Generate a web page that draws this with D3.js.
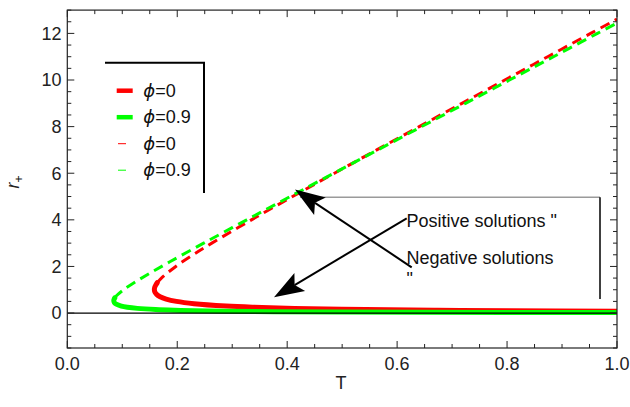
<!DOCTYPE html>
<html>
<head>
<meta charset="utf-8">
<script src="https://cdn.jsdelivr.net/npm/d3@7"></script>
<style>
  html, body { margin: 0; padding: 0; background: #fff; }
  svg { display: block; font-family: "Liberation Sans", Arial, sans-serif; }
</style>
</head>
<body>
<svg id="chart" width="630" height="407"></svg>
<script>
// Horizon radius r+ against temperature T, two values of phi.
// Small-black-hole branches (solid) and large-black-hole branches (dashed).
const redSolidT  = [0.1636, 0.1609, 0.1590, 0.1584, 0.1593, 0.1625, 0.1688, 0.1799, 0.1986, 0.2305, 0.2889, 0.3380, 0.4137, 0.5423, 0.6726, 0.8037, 1.0];
const redSolidR  = [1.3, 1.2, 1.1, 1.005, 0.9, 0.8, 0.7, 0.6, 0.5, 0.4, 0.3, 0.25, 0.2, 0.15, 0.12, 0.1, 0.08];
const redDashT   = [0.1636, 0.1712, 0.1974, 0.2288, 0.2629, 0.3350, 0.4098, 0.4860, 0.5629, 0.6402, 0.7179, 0.7958, 0.8739, 0.9520, 1.0];
const redDashR   = [1.3, 1.5, 2, 2.5, 3, 4, 5, 6, 7, 8, 9, 10, 11, 12, 12.61];
const greenSolidT = [0.0864, 0.0853, 0.08455, 0.0856, 0.0891, 0.0983, 0.1092, 0.1275, 0.1606, 0.1953, 0.2308, 0.2849, 0.3762, 0.4988, 0.6394, 0.7980, 1.0];
const greenSolidR = [0.65, 0.6, 0.527, 0.45, 0.38, 0.3, 0.25, 0.2, 0.15, 0.12, 0.1, 0.08, 0.06, 0.045, 0.035, 0.028, 0.022];
const greenDashT  = [0.0864, 0.0899, 0.1025, 0.1214, 0.1495, 0.1866, 0.2481, 0.3264, 0.4055, 0.4850, 0.5647, 0.6445, 0.7244, 0.8044, 0.8844, 0.9644, 1.0];
const greenDashR  = [0.65, 0.75, 1.0, 1.3, 1.7, 2.2, 3, 4, 5, 6, 7, 8, 9, 10, 11, 12, 12.44];

const xTicks = [0, 0.2, 0.4, 0.6, 0.8, 1.0];
const xTickLabels = ["0.0", "0.2", "0.4", "0.6", "0.8", "1.0"];
const yTicks = [0, 2, 4, 6, 8, 10, 12];
const yTickLabels = ["0", "2", "4", "6", "8", "10", "12"];
const legendLabels = ["0", "0.9", "0", "0.9"];

const svg = d3.select("#chart");
const x = d3.scaleLinear().domain([0, 1]).range([67.3, 617]);
const y = d3.scaleLinear().domain([-1.5, 13]).range([348, 10.1]);

const RED = "#ff0000", GREEN = "#00ff00";
const FONT = 18;

svg.append("defs").append("clipPath").attr("id", "plotClip")
  .append("rect").attr("x", x(0)).attr("y", y(13)).attr("width", x(1) - x(0)).attr("height", y(-1.5) - y(13));

const plot = svg.append("g").attr("clip-path", "url(#plotClip)");
const line = d3.line().x(d => x(d[0])).y(d => y(d[1])).curve(d3.curveCatmullRom.alpha(0.5));
const pts = (T, R) => T.map((t, i) => [t, R[i]]);

// solid small branches
plot.append("path").attr("d", line(pts(redSolidT, redSolidR)))
  .attr("fill", "none").attr("stroke", RED).attr("stroke-width", 5).attr("stroke-linecap", "round");
plot.append("path").attr("d", line(pts(greenSolidT, greenSolidR)))
  .attr("fill", "none").attr("stroke", GREEN).attr("stroke-width", 5).attr("stroke-linecap", "round");
// dashed large branches
plot.append("path").attr("d", line(pts(redDashT, redDashR)))
  .attr("fill", "none").attr("stroke", RED).attr("stroke-width", 3).attr("stroke-dasharray", "10,6");
plot.append("path").attr("d", line(pts(greenDashT, greenDashR)))
  .attr("fill", "none").attr("stroke", GREEN).attr("stroke-width", 3).attr("stroke-dasharray", "10,6");

// horizontal axis at r+ = 0
svg.append("line").attr("x1", x(0)).attr("x2", x(1)).attr("y1", y(0)).attr("y2", y(0))
  .attr("stroke", "#000").attr("stroke-width", 1.2);

// frame
const frame = svg.append("g");
frame.append("rect").attr("x", x(0)).attr("y", y(13)).attr("width", x(1) - x(0)).attr("height", y(-1.5) - y(13))
  .attr("fill", "none").attr("stroke", "#222").attr("stroke-width", 1.2);

const xMinor = d3.range(0, 1.0001, 0.05);
const yMinor = d3.range(-1.5, 13.0001, 0.5);
const isMajorX = v => xTicks.some(t => Math.abs(t - v) < 1e-6);
const isMajorY = v => yTicks.some(t => Math.abs(t - v) < 1e-6);

xMinor.forEach(v => {
  const len = isMajorX(v) ? 7 : 4;
  frame.append("line").attr("x1", x(v)).attr("x2", x(v)).attr("y1", y(-1.5)).attr("y2", y(-1.5) - len).attr("stroke", "#222");
  frame.append("line").attr("x1", x(v)).attr("x2", x(v)).attr("y1", y(13)).attr("y2", y(13) + len).attr("stroke", "#222");
});
yMinor.forEach(v => {
  const len = isMajorY(v) ? 7 : 4;
  frame.append("line").attr("x1", x(0)).attr("x2", x(0) + len).attr("y1", y(v)).attr("y2", y(v)).attr("stroke", "#222");
  frame.append("line").attr("x1", x(1)).attr("x2", x(1) - len).attr("y1", y(v)).attr("y2", y(v)).attr("stroke", "#222");
});

xTicks.forEach((v, i) => {
  svg.append("text").attr("x", x(v)).attr("y", 369.5).attr("text-anchor", "middle")
    .attr("font-size", FONT).attr("fill", "#222").text(xTickLabels[i]);
});
yTicks.forEach((v, i) => {
  svg.append("text").attr("x", 61.5).attr("y", y(v) + 6.4).attr("text-anchor", "end")
    .attr("font-size", FONT).attr("fill", "#222").text(yTickLabels[i]);
});

// axis labels
svg.append("text").attr("x", 341).attr("y", 389).attr("text-anchor", "middle")
  .attr("font-size", FONT).attr("fill", "#222").text("T");
const yl = svg.append("text").attr("transform", "translate(19,182) rotate(-90)")
  .attr("text-anchor", "middle").attr("font-size", FONT).attr("fill", "#222");
yl.append("tspan").attr("font-style", "italic").text("r");
yl.append("tspan").attr("font-size", 12).attr("dy", 4).text("+");

// legend
const lg = svg.append("g");
lg.append("path").attr("d", "M105,62.7 H204 V193").attr("fill", "none").attr("stroke", "#000").attr("stroke-width", 2);
const legRows = [
  { c: RED, w: 4.5, x1: 116.7, x2: 132.7 },
  { c: GREEN, w: 4.5, x1: 116.7, x2: 132.7 },
  { c: RED, w: 1, x1: 118, x2: 126 },
  { c: GREEN, w: 1, x1: 118, x2: 126 }
];
legRows.forEach((r, i) => {
  const yy = 90.7 + i * 26.5;
  lg.append("line").attr("x1", r.x1).attr("x2", r.x2).attr("y1", yy).attr("y2", yy)
    .attr("stroke", r.c).attr("stroke-width", r.w);
  const t = lg.append("text").attr("x", 143.3).attr("y", yy + 5.8).attr("font-size", FONT).attr("fill", "#111");
  t.append("tspan").attr("font-style", "italic").attr("font-family", "DejaVu Sans").text("\u03D5");
  t.append("tspan").text("=" + legendLabels[i]);
});

// annotation
const ann = svg.append("g");
ann.append("line").attr("x1", 300).attr("x2", 600).attr("y1", 197.3).attr("y2", 197.3)
  .attr("stroke", "#9a9a9a").attr("stroke-width", 1.5);
ann.append("line").attr("x1", 600).attr("x2", 600).attr("y1", 197.3).attr("y2", 299)
  .attr("stroke", "#000").attr("stroke-width", 1.5);

function arrow(x0, y0, x1, y1) {
  const dx = x1 - x0, dy = y1 - y0, L = Math.hypot(dx, dy);
  const ux = dx / L, uy = dy / L, nx = -uy, ny = ux;
  const hl = 30, hw = 10.5, notch = 24;
  ann.append("line").attr("x1", x0).attr("y1", y0).attr("x2", x1 - ux * notch).attr("y2", y1 - uy * notch)
    .attr("stroke", "#000").attr("stroke-width", 2);
  const p = [
    [x1, y1],
    [x1 - ux * hl + nx * hw, y1 - uy * hl + ny * hw],
    [x1 - ux * notch, y1 - uy * notch],
    [x1 - ux * hl - nx * hw, y1 - uy * hl - ny * hw]
  ];
  ann.append("path").attr("d", "M" + p.map(q => q.join(",")).join("L") + "Z").attr("fill", "#000");
}
arrow(411.7, 267.3, 295, 189.5);
arrow(406.7, 218.3, 274, 297.3);

ann.append("text").attr("x", 406.5).attr("y", 226.7).attr("font-size", FONT).attr("fill", "#111").text("Positive solutions \"");
ann.append("text").attr("x", 406.5).attr("y", 264.3).attr("font-size", FONT).attr("fill", "#111").text("Negative solutions");
ann.append("text").attr("x", 406.5).attr("y", 284.5).attr("font-size", FONT).attr("fill", "#111").text("\"");
</script>
</body>
</html>
